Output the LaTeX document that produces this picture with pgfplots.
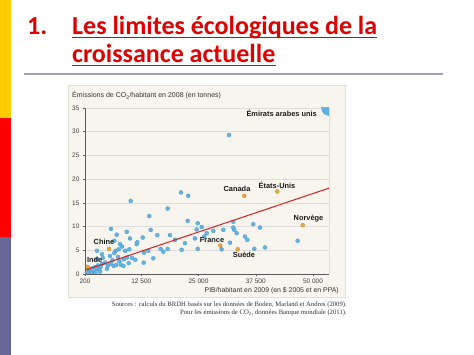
\documentclass[border=0pt]{standalone}
\usepackage{pgfplots}
\pgfplotsset{compat=1.18}
\usepackage{pgfplotstable}
\usepackage{fontspec}
\setmainfont{Liberation Sans}
\newfontfamily\titlefont{Carlito}
\newfontfamily\seriffont{Liberation Serif}
\definecolor{titlered}{HTML}{E00000}
\definecolor{stripeY}{HTML}{FFCC00}
\definecolor{stripeR}{HTML}{FF0000}
\definecolor{stripeB}{HTML}{666699}
\definecolor{rulegray}{HTML}{A0A0B4}
\definecolor{panelbg}{HTML}{F7F5EE}
\definecolor{panelbd}{HTML}{E2DFD6}
\definecolor{ptblue}{HTML}{62B4E4}
\definecolor{ptblueD}{HTML}{4898CC}
\definecolor{ptorange}{HTML}{E8A838}
\definecolor{ptorangeD}{HTML}{CC8A1E}
\definecolor{regred}{HTML}{D42020}

\pgfplotstableread{
x y r
31650 29.3 3.3
21170 17.2 2.6
22760 16.5 2.6
10180 15.4 2.6
14240 12.2 2.6
18260 13.8 2.5
22630 11.2 2.0
24820 10.7 2.0
25690 9.9 2.0
26780 8.6 2.0
14550 9.3 1.9
15990 8.2 1.9
18760 8.2 1.9
5880 9.5 1.9
7120 8.3 1.9
9310 8.9 1.9
10030 7.5 1.9
6600 7.0 1.9
8280 5.8 1.9
7840 6.3 1.9
11490 6.3 1.9
11620 6.7 1.9
12800 7.7 1.9
9880 5.2 1.9
6900 4.9 1.9
13090 4.5 1.9
14020 4.9 1.9
16730 5.3 1.9
19860 7.2 1.9
21320 5.1 1.9
22040 6.5 1.9
24600 9.4 1.9
26260 7.9 1.9
24220 7.5 1.9
24820 5.3 1.9
30410 9.3 1.9
28220 9.1 1.9
32590 11.0 1.9
32590 9.8 1.9
32810 9.3 1.9
33330 8.6 1.9
36960 10.5 1.9
38420 9.8 1.9
35140 7.9 1.9
35650 7.2 1.9
37180 5.3 1.9
39510 5.6 1.9
31870 6.6 1.9
30050 5.2 1.9
46650 7.0 2.3
6600 4.4 1.4
5660 3.8 1.4
15120 3.3 1.4
17300 4.7 1.4
18260 5.3 1.4
2820 4.9 1.4
3910 4.2 1.4
7560 5.2 1.4
9000 4.9 1.4
2820 3.2 1.2
4070 3.4 1.2
5000 1.1 1.2
6470 1.7 1.2
7690 2.7 1.2
8650 3.1 1.2
9740 2.3 1.0
10460 3.4 1.0
11190 3.0 1.0
13030 2.4 1.0
1010 1.1 0.9
400 0.2 0.9
800 0.3 0.9
1200 0.5 0.9
1400 1.0 0.9
1800 1.2 0.9
2200 0.4 0.9
2400 1.4 0.9
2800 1.1 0.9
3000 1.8 0.9
3300 0.9 0.9
3600 1.5 0.9
3900 2.1 0.9
4600 2.4 0.9
5200 1.8 0.9
5800 2.2 0.9
6200 2.9 0.9
7000 1.9 0.9
7400 3.6 0.9
8000 2.0 0.9
8600 1.7 0.9
9400 3.5 0.9
1500 0.3 0.9
2500 0.2 0.9
3500 0.5 0.9
}\bluedata

\pgfplotstableread{
x y r
35000 16.5 2.0
42200 17.4 2.0
47750 10.3 2.0
29750 6.0 1.7
33550 5.2 1.7
5440 5.3 1.8
800 1.5 1.4
}\orangedata

\begin{document}
\begin{tikzpicture}[x=1pt,y=1pt]
% page
\fill[white] (0,0) rectangle (474,355);
\fill[stripeY] (0,237) rectangle (11,355);
\fill[stripeR] (0,118) rectangle (11,237);
\fill[stripeB] (0,0) rectangle (11,118);
% title
\node[anchor=base west, inner sep=0pt, text=titlered, font=\titlefont\bfseries\fontsize{26}{30}\selectfont] at (27,320) {1.};
\node[anchor=base west, inner sep=0pt, text=titlered, font=\titlefont\bfseries\fontsize{26}{30}\selectfont] (t1) at (72,320) {Les limites écologiques de la};
\node[anchor=base west, inner sep=0pt, text=titlered, font=\titlefont\bfseries\fontsize{26}{30}\selectfont] (t2) at (72,292) {croissance actuelle};
\draw[titlered, line width=1.4pt] ([yshift=-2.5pt]t1.base west) -- ([yshift=-2.5pt]t1.base east);
\draw[titlered, line width=1.4pt] ([yshift=-2.5pt]t2.base west) -- ([yshift=-2.5pt]t2.base east);
\draw[rulegray, line width=1.5pt] (24,281) -- (443,281);
% panel
\filldraw[fill=panelbg, draw=panelbd, line width=0.6pt] (68,58) rectangle (345,270);
\node[anchor=base west, inner sep=0pt, text=black!80, font=\fontsize{7}{8}\selectfont] at (72,257) {Émissions de CO\textsubscript{2}/habitant en 2008 (en tonnes)};
\node[anchor=base east, inner sep=0pt, text=black!80, font=\fontsize{6.9}{8}\selectfont] at (339,62.5) {PIB/habitant en 2009 (en \$ 2005 et en PPA)};
\node[anchor=base east, inner sep=0pt, text=black!80, font=\seriffont\fontsize{6.7}{7}\selectfont] at (347,48.5) {Sources : calculs du BRDH basés sur les données de Boden, Marland et Andres (2009).};
\node[anchor=base east, inner sep=0pt, text=black!80, font=\seriffont\fontsize{6.7}{7}\selectfont] at (347,40.5) {Pour les émissions de CO\textsubscript{2}, données Banque mondiale (2011).};

\begin{axis}[
  scale only axis, width=244pt, height=166pt,
  at={(85pt,81pt)}, anchor=south west,
  xmin=200, xmax=53500, ymin=0, ymax=35,
  clip marker paths=true,
  scaled x ticks=false, scaled y ticks=false,
  axis x line*=bottom, axis y line*=left,
  axis line style={draw=black!65, line width=0.6pt, -},
  xtick={200,12500,25000,37500,50000},
  xticklabels={200,12\ 500,25\ 000,37\ 500,50\ 000},
  ytick={0,5,10,15,20,25,30,35},
  yticklabels={0,5,10,15,20,25,30,35},
  extra x ticks={53500}, extra x tick labels={},
  extra x tick style={grid=major, major tick length=0pt},
  ymajorgrids,
  grid style={draw=black!13, line width=0.5pt},
  tick align=outside, major tick length=2pt,
  tick style={draw=black!60, line width=0.5pt},
  tick label style={font=\fontsize{6.5}{7}\selectfont, text=black!75},
  xticklabel style={yshift=1pt},
]
\addplot[scatter, only marks, mark=*,
  visualization depends on={\thisrow{r}\as\rad},
  scatter/@pre marker code/.append style={/tikz/mark size=\rad},
  scatter/use mapped color={draw=ptblueD, fill=ptblue},
  mark options={line width=0.3pt}] table[x=x,y=y] {\bluedata};
\addplot[only marks, mark=*, mark size=7.5pt, mark options={draw=ptblueD, fill=ptblue, line width=0.3pt}] coordinates {(53500,35)};
\addplot[scatter, only marks, mark=*,
  visualization depends on={\thisrow{r}\as\rad},
  scatter/@pre marker code/.append style={/tikz/mark size=\rad},
  scatter/use mapped color={draw=ptorangeD, fill=ptorange},
  mark options={line width=0.3pt}] table[x=x,y=y] {\orangedata};
\addplot[regred, line width=1pt] coordinates {(200,0.8) (53500,18.1)};
\end{axis}

% country labels
\begin{scope}[every node/.style={inner sep=0pt, font=\bfseries\fontsize{7.4}{8}\selectfont, text=black!90}]
\node at (281.7,241.7) {Émirats arabes unis};
\node at (237,166) {Canada};
\node at (277,170) {États-Unis};
\node at (308.5,136.7) {Norvège};
\node at (212,115) {France};
\node at (244,99.7) {Suède};
\node at (104,112.7) {Chine};
\node at (94.7,95) {Inde};
\end{scope}
\end{tikzpicture}
\end{document}
